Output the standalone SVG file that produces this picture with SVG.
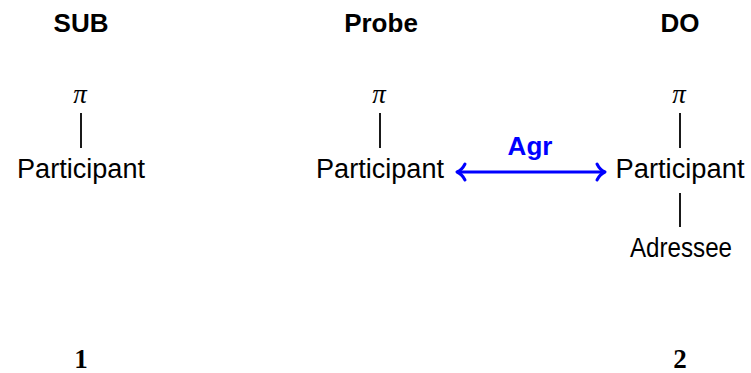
<svg xmlns="http://www.w3.org/2000/svg" width="751" height="373" viewBox="0 0 751 373">
<style>
.t{font-family:"Liberation Sans",Arial,sans-serif;font-size:27px;fill:#000;text-anchor:middle}
.h{font-family:"Liberation Sans",Arial,sans-serif;font-size:26px;font-weight:bold;fill:#000;text-anchor:middle}
.pi{font-family:"Liberation Serif","Times New Roman",serif;font-size:27px;font-style:italic;fill:#000;text-anchor:middle}
.n{font-family:"Liberation Serif","Times New Roman",serif;font-size:27px;font-weight:bold;fill:#000;text-anchor:middle}
.e{stroke:#000;stroke-width:1.8;fill:none}
.agr{stroke:#0000ff;stroke-width:3;fill:none;stroke-linecap:round;stroke-linejoin:round}
.lbl{font-family:"Liberation Sans",Arial,sans-serif;font-size:26px;font-weight:bold;fill:#0000ff;text-anchor:middle}
</style>
<g id="sub">
<text class="h" x="81" y="32">SUB</text>
<text class="pi" x="80" y="103">π</text>
<text class="t" x="81" y="178" textLength="128" lengthAdjust="spacingAndGlyphs">Participant</text>
<text class="n" x="81" y="368">1</text>
</g>
<g id="probe">
<text class="h" x="381" y="32">Probe</text>
<text class="pi" x="379" y="103">π</text>
<text class="t" x="380" y="178" textLength="128" lengthAdjust="spacingAndGlyphs">Participant</text>
</g>
<g id="do">
<text class="h" x="680" y="32">DO</text>
<text class="pi" x="679" y="103">π</text>
<text class="t" x="680" y="178" textLength="129" lengthAdjust="spacingAndGlyphs">Participant</text>
<text class="t" x="681" y="257" textLength="102" lengthAdjust="spacingAndGlyphs">Adressee</text>
<text class="n" x="680" y="368">2</text>
</g>
<g id="connectors">
<line class="e" x1="81" y1="113" x2="81" y2="148"/>
<line class="e" x1="380" y1="113" x2="380" y2="148"/>
<line class="e" x1="680" y1="113" x2="680" y2="148"/>
<line class="e" x1="680" y1="193" x2="680" y2="227"/>
<line class="agr" x1="459" y1="172" x2="603" y2="172"/>
<path class="agr" d="M597,164 Q600,170 605,172 Q600,174 597,180"/>
<path class="agr" d="M465,164 Q462,170 457,172 Q462,174 465,180"/>
<text class="lbl" x="530" y="155">Agr</text>
</g>
</svg>
